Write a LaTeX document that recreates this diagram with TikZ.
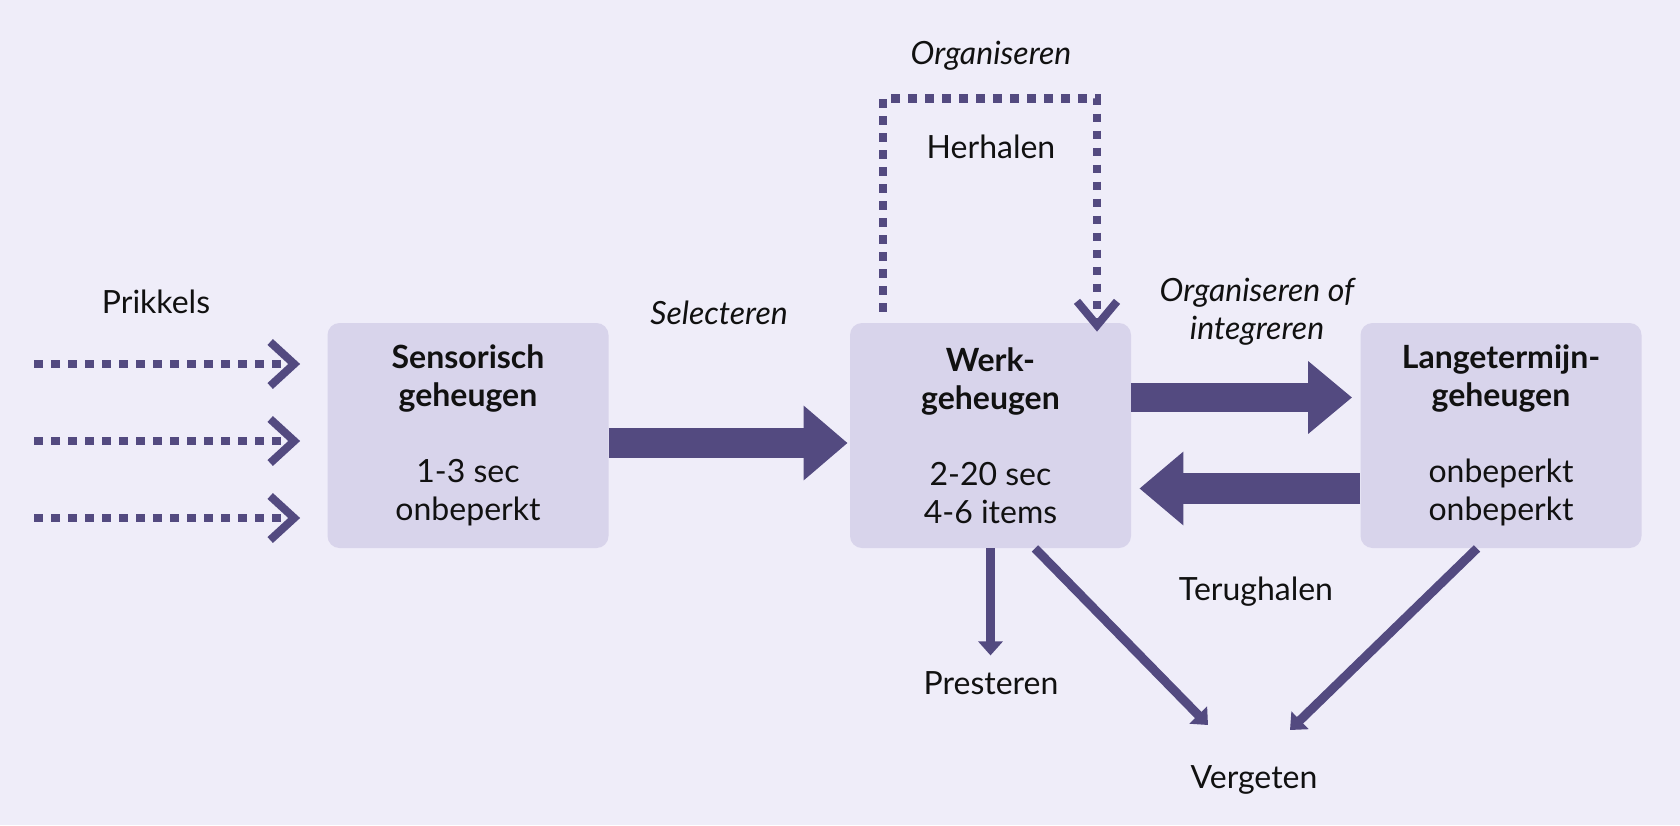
\documentclass[tikz,border=0pt]{standalone}
\usepackage{fontspec}
\setmainfont{Lato}
\usetikzlibrary{arrows.meta,calc}
\definecolor{bg}{RGB}{239,237,249}
\definecolor{boxc}{RGB}{216,212,235}
\definecolor{arr}{RGB}{83,74,128}
\definecolor{ink}{RGB}{17,17,17}
\begin{document}
\begin{tikzpicture}[x=0.5pt,y=-0.5pt,
  mem/.style={fill=boxc, rounded corners=6pt, minimum width=140.5pt, minimum height=112.5pt,
    inner sep=0pt, align=center, text=ink, font=\fontsize{16}{19}\selectfont},
  lbl/.style={text=ink, align=center, inner sep=0pt, font=\fontsize{16}{19}\selectfont},
  ilbl/.style={lbl, font=\fontsize{16}{19}\selectfont\itshape},
  dots/.style={draw=arr, line width=4.25pt, dash pattern=on 4.25pt off 4.25pt,
    -{Straight Barb[length=12pt,width=22pt,line width=4pt]}},
  big/.style={draw=arr, line width=15pt, -{Triangle[length=22pt,width=36pt]}},
  thin/.style={draw=arr, line width=4.5pt, -{Triangle[length=7pt,width=12pt]}},
]
\fill[bg] (0,0) rectangle (1680,825);
\useasboundingbox (0,0) rectangle (1680,825);

% boxes
\node[mem] (s) at (468,435.5) {\textbf{Sensorisch}\\\textbf{geheugen}\\[19pt]1-3 sec\\onbeperkt};
\node[mem] (w) at (990.5,435.5) {\textbf{Werk-}\\\textbf{geheugen}\\[19pt]2-20 sec\\4-6 items};
\node[mem] (l) at (1501,435.5) {\textbf{Langetermijn-}\\\textbf{geheugen}\\[19pt]onbeperkt\\onbeperkt};

% labels
\node[lbl] (prik) at (156,302) {Prikkels};
\node[ilbl] (sel) at (719,313) {Selecteren};
\node[ilbl] (org) at (991,56) {Organiseren};
\node[lbl] (herh) at (991,147) {Herhalen};
\node[ilbl] (orgi) at (1257,312) {Organiseren of\\integreren};
\node[lbl] (terug) at (1256,592) {Terughalen};
\node[lbl] (prest) at (991,683) {Presteren};
\node[lbl] (verg) at (1254,780) {Vergeten};

% input stimuli
\coordinate (in1) at (34,364);
\coordinate (in2) at (34,441);
\coordinate (in3) at (34,518);
\draw[dots] (in1) -- ($(s.west)+(-27,-71.5)$);
\draw[dots] (in2) -- ($(s.west)+(-27,5.5)$);
\draw[dots] (in3) -- ($(s.west)+(-27,82.5)$);

% rehearsal loop
\coordinate (h1) at ($(w.north)+(-107.5,-11)$);
\coordinate (htr) at ($(w.north)+(106.5,-224)$);
\coordinate (hend) at ($(w.north)+(106.5,9)$);
\draw[dots, -{Straight Barb[length=12pt,width=20pt,line width=4pt]}] (h1) |- (htr) -- (hend);

% thick arrows
\draw[big] ($(s.east)+(0,7.5)$) -- ($(w.west)+(-2,7.5)$);
\draw[big, line width=14.5pt, -{Triangle[length=22pt,width=35pt]}] ($(w.east)+(0,-38)$) -- ($(l.west)+(-8,-38)$);
\draw[big, line width=15.5pt, -{Triangle[length=22pt,width=35.5pt]}] ($(l.west)+(0,53)$) -- ($(w.east)+(8,53)$);

% thin arrows
\draw[thin] (w.south) -- ($(w.south)+(0,107)$);
\draw[thin] ($(w.south)+(44.5,0)$) -- ($(verg)+(-46,-55)$);
\draw[thin] ($(l.south)+(-24,0)$) -- ($(verg)+(36,-50)$);
\end{tikzpicture}
\end{document}
